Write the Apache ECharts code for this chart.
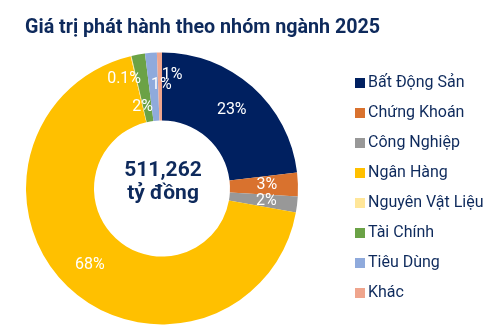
<!DOCTYPE html>
<html>
<head>
<meta charset="utf-8">
<script src="https://cdn.jsdelivr.net/npm/echarts@6/dist/echarts.min.js"></script>
<style>
html,body{margin:0;padding:0;background:#fff;}
#c{width:495px;height:330px;}
</style>
</head>
<body>
<div id="c"></div>
<script>
var titleText = 'Giá trị phát hành theo nhóm ngành 2025';
var centerText = ['511,262', 'tỷ đồng'];
var categories = ['Bất Động Sản', 'Chứng Khoán', 'Công Nghiệp', 'Ngân Hàng', 'Nguyên Vật Liệu', 'Tài Chính', 'Tiêu Dùng', 'Khác'];
var values = [23.1, 2.8, 1.9, 68.4, 0.1, 1.6, 1.4, 0.6];
var pctLabels = ['23%', '3%', '2%', '68%', '0.1%', '2%', '1%', '1%'];
var colors = ['#002060', '#D9722E', '#989898', '#FFC000', '#FFE699', '#6BA246', '#8FAADC', '#EFA58D'];
var labelNudge = [[0,0],[0,0],[0,0],[0,0],[-14,-7],[-1,22],[8,1],[12,-9]];

var chart = echarts.init(document.getElementById('c'), null, {renderer: 'canvas'});
var navy = '#0E2A5C';
chart.setOption({
  animation: false,
  title: {
    text: titleText,
    left: 20, top: 13,
    textStyle: {fontFamily: 'Roboto', fontWeight: 'bold', fontSize: 19.7, color: navy}
  },
  legend: {
    orient: 'vertical',
    left: 350, top: 69,
    itemWidth: 10, itemHeight: 10, itemGap: 12,
    icon: 'rect',
    data: categories,
    textStyle: {fontFamily: 'Roboto', fontSize: 16, color: navy, lineHeight: 18, padding: [0,0,0,-2]}
  },
  graphic: [{
    type: 'text',
    style: {
      text: centerText[0] + '\n' + centerText[1],
      x: 163, y: 182,
      align: 'center', verticalAlign: 'middle',
      fontFamily: 'Roboto', fontWeight: 'bold', fontSize: 21, lineHeight: 23,
      fill: navy
    }
  }],
  series: [{
    type: 'pie',
    center: [162, 188.5],
    radius: [68, 136],
    startAngle: 90,
    clockwise: true,
    avoidLabelOverlap: false,
    label: {
      show: true,
      position: 'inside',
      fontFamily: 'Roboto', fontSize: 16, color: '#fff',
      formatter: function (p) { return pctLabels[p.dataIndex]; }
    },
    labelLine: {show: false},
    labelLayout: function (p) {
      var n = labelNudge[p.dataIndex];
      return {dx: n[0], dy: n[1]};
    },
    itemStyle: {borderWidth: 0},
    emphasis: {disabled: true},
    data: categories.map(function (c, i) {
      return {name: c, value: values[i], itemStyle: {color: colors[i]}};
    })
  }]
});
</script>
</body>
</html>
